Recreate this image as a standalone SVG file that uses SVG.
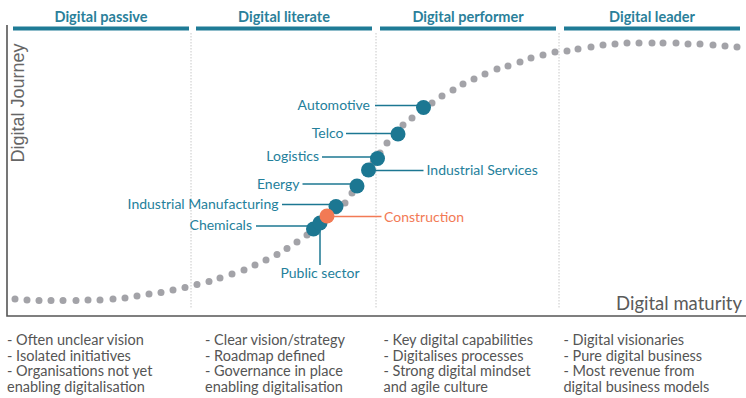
<svg xmlns="http://www.w3.org/2000/svg" width="746" height="398" viewBox="0 0 746 398">
<style>
.bg{fill:#ffffff}
.bar{fill:#1f7b96}
.hdr{font-family:Lato,"Open Sans",sans-serif;font-size:14.5px;font-weight:700;fill:#2a7f9a;text-anchor:middle}
.div{stroke:#c8c8c8;stroke-width:1;stroke-dasharray:1.5 1.5;fill:none}
.axis{stroke:#555555;stroke-width:1.6;fill:none}
.ylab{font-family:"Liberation Sans",Arial,sans-serif;font-size:18px;fill:#666666;text-anchor:middle}
.xlab{font-family:Lato,"Open Sans",sans-serif;font-size:18.5px;fill:#5a5a5a;text-anchor:end}
.gd{fill:#a3a3a8}
.dot{fill:#1c7792}
.dot-o{fill:#f27a55}
.lbl{font-family:Lato,"Open Sans",sans-serif;font-size:14px;fill:#24809b}
.lbl-o{font-family:Lato,"Open Sans",sans-serif;font-size:14px;fill:#f27a55}
.ln{stroke:#1c7792;stroke-width:1.5;fill:none}
.ln-o{stroke:#f27a55;stroke-width:1.5;fill:none}
.body{font-family:Lato,"Open Sans",sans-serif;font-size:14.5px;fill:#555555}
</style>
<rect class="bg" x="0" y="0" width="746" height="398"/>

<g id="stages">
  <g id="stage-passive">
    <rect class="bar" x="13" y="26.5" width="176" height="4"/>
    <text class="hdr" x="101" y="22">Digital passive</text>
  </g>
  <g id="stage-literate">
    <rect class="bar" x="196" y="26.5" width="176" height="4"/>
    <text class="hdr" x="284" y="22">Digital literate</text>
  </g>
  <g id="stage-performer">
    <rect class="bar" x="380" y="26.5" width="176" height="4"/>
    <text class="hdr" x="468" y="22">Digital performer</text>
  </g>
  <g id="stage-leader">
    <rect class="bar" x="564" y="26.5" width="176" height="4"/>
    <text class="hdr" x="652" y="22">Digital leader</text>
  </g>
</g>

<g id="dividers">
  <line class="div" x1="191" y1="33" x2="191" y2="309"/>
  <line class="div" x1="376" y1="33" x2="376" y2="309"/>
  <line class="div" x1="559" y1="33" x2="559" y2="309"/>
</g>

<g id="axes">
  <path class="axis" d="M7,25 V316 H746"/>
  <text class="ylab" transform="translate(24,103) rotate(-90)">Digital Journey</text>
  <text class="xlab" x="742" y="310">Digital maturity</text>
</g>

<g id="curve">
  <circle class="gd" cx="15" cy="299" r="3.5"/>
  <circle class="gd" cx="27" cy="300" r="3.5"/>
  <circle class="gd" cx="39" cy="300.5" r="3.5"/>
  <circle class="gd" cx="51" cy="300.5" r="3.5"/>
  <circle class="gd" cx="63" cy="300.5" r="3.5"/>
  <circle class="gd" cx="76" cy="300.5" r="3.5"/>
  <circle class="gd" cx="88" cy="300" r="3.5"/>
  <circle class="gd" cx="100" cy="300" r="3.5"/>
  <circle class="gd" cx="113" cy="299" r="3.5"/>
  <circle class="gd" cx="125" cy="298" r="3.5"/>
  <circle class="gd" cx="137" cy="296" r="3.5"/>
  <circle class="gd" cx="149" cy="294" r="3.5"/>
  <circle class="gd" cx="161" cy="292.5" r="3.5"/>
  <circle class="gd" cx="173" cy="290" r="3.5"/>
  <circle class="gd" cx="185" cy="287.5" r="3.5"/>
  <circle class="gd" cx="197" cy="284.5" r="3.5"/>
  <circle class="gd" cx="209" cy="281.5" r="3.5"/>
  <circle class="gd" cx="220" cy="278" r="3.5"/>
  <circle class="gd" cx="232" cy="274" r="3.5"/>
  <circle class="gd" cx="244" cy="270" r="3.5"/>
  <circle class="gd" cx="255" cy="265" r="3.5"/>
  <circle class="gd" cx="266" cy="260" r="3.5"/>
  <circle class="gd" cx="277" cy="254.5" r="3.5"/>
  <circle class="gd" cx="287" cy="248.5" r="3.5"/>
  <circle class="gd" cx="297" cy="242" r="3.5"/>
  <circle class="gd" cx="307" cy="235" r="3.5"/>
  <circle class="gd" cx="317" cy="227" r="3.5"/>
  <circle class="gd" cx="327" cy="219" r="3.5"/>
  <circle class="gd" cx="336" cy="211" r="3.5"/>
  <circle class="gd" cx="345" cy="203" r="3.5"/>
  <circle class="gd" cx="352" cy="193" r="3.5"/>
  <circle class="gd" cx="359" cy="183" r="3.5"/>
  <circle class="gd" cx="366" cy="173" r="3.5"/>
  <circle class="gd" cx="373" cy="163" r="3.5"/>
  <circle class="gd" cx="380" cy="153" r="3.5"/>
  <circle class="gd" cx="387" cy="143" r="3.5"/>
  <circle class="gd" cx="395" cy="134" r="3.5"/>
  <circle class="gd" cx="403" cy="125" r="3.5"/>
  <circle class="gd" cx="412" cy="118" r="3.5"/>
  <circle class="gd" cx="422" cy="110" r="3.5"/>
  <circle class="gd" cx="432" cy="103" r="3.5"/>
  <circle class="gd" cx="442" cy="96" r="3.5"/>
  <circle class="gd" cx="453" cy="90" r="3.5"/>
  <circle class="gd" cx="463" cy="84" r="3.5"/>
  <circle class="gd" cx="474" cy="79" r="3.5"/>
  <circle class="gd" cx="485" cy="74" r="3.5"/>
  <circle class="gd" cx="497" cy="69" r="3.5"/>
  <circle class="gd" cx="508" cy="66" r="3.5"/>
  <circle class="gd" cx="520" cy="62" r="3.5"/>
  <circle class="gd" cx="531" cy="58" r="3.5"/>
  <circle class="gd" cx="543" cy="55" r="3.5"/>
  <circle class="gd" cx="555" cy="52" r="3.5"/>
  <circle class="gd" cx="567" cy="51" r="3.5"/>
  <circle class="gd" cx="578" cy="49" r="3.5"/>
  <circle class="gd" cx="591" cy="47" r="3.5"/>
  <circle class="gd" cx="603" cy="45" r="3.5"/>
  <circle class="gd" cx="615" cy="44" r="3.5"/>
  <circle class="gd" cx="627" cy="43" r="3.5"/>
  <circle class="gd" cx="639" cy="43" r="3.5"/>
  <circle class="gd" cx="652" cy="43" r="3.5"/>
  <circle class="gd" cx="663" cy="43" r="3.5"/>
  <circle class="gd" cx="676" cy="43" r="3.5"/>
  <circle class="gd" cx="688" cy="44" r="3.5"/>
  <circle class="gd" cx="700" cy="44" r="3.5"/>
  <circle class="gd" cx="713" cy="45" r="3.5"/>
  <circle class="gd" cx="725" cy="46" r="3.5"/>
  <circle class="gd" cx="737" cy="47" r="3.5"/>
</g>

<g id="connectors">
  <line class="ln" x1="375" y1="105.5" x2="423" y2="105.5"/>
  <line class="ln" x1="346" y1="133.5" x2="398" y2="133.5"/>
  <line class="ln" x1="322" y1="157" x2="377" y2="157"/>
  <line class="ln" x1="368" y1="170.5" x2="423.5" y2="170.5"/>
  <line class="ln" x1="302.5" y1="184" x2="357" y2="184"/>
  <line class="ln" x1="282" y1="204.5" x2="336" y2="204.5"/>
  <line class="ln" x1="256" y1="226" x2="313" y2="226"/>
  <line class="ln" x1="320" y1="223" x2="320" y2="265"/>
  <line class="ln-o" x1="327" y1="216.5" x2="381.5" y2="216.5"/>
</g>

<g id="automotive">
  <circle class="dot" cx="423.5" cy="107.5" r="7.5"/>
  <text class="lbl" x="370" y="110" text-anchor="end">Automotive</text>
</g>
<g id="telco">
  <circle class="dot" cx="398" cy="134" r="7.5"/>
  <text class="lbl" x="343.5" y="137.5" text-anchor="end">Telco</text>
</g>
<g id="industrial-services">
  <circle class="dot" cx="368.5" cy="170" r="7.5"/>
  <text class="lbl" x="426.5" y="175">Industrial Services</text>
</g>
<g id="logistics">
  <circle class="dot" cx="377.5" cy="158.5" r="7.5"/>
  <text class="lbl" x="319" y="161" text-anchor="end">Logistics</text>
</g>
<g id="energy">
  <circle class="dot" cx="357" cy="186" r="7.5"/>
  <text class="lbl" x="299.5" y="188.5" text-anchor="end">Energy</text>
</g>
<g id="industrial-manufacturing">
  <circle class="dot" cx="336" cy="206.5" r="7.5"/>
  <text class="lbl" x="278.5" y="209" text-anchor="end">Industrial Manufacturing</text>
</g>
<g id="chemicals">
  <circle class="dot" cx="313.5" cy="229" r="7.5"/>
  <text class="lbl" x="252" y="230" text-anchor="end">Chemicals</text>
</g>
<g id="public-sector">
  <circle class="dot" cx="320" cy="223" r="7.5"/>
  <text class="lbl" x="320" y="277.5" text-anchor="middle">Public sector</text>
</g>
<g id="construction">
  <circle class="dot-o" cx="327" cy="216" r="7.5"/>
  <text class="lbl-o" x="384" y="221.5">Construction</text>
</g>

<g id="descriptions">
  <g id="desc-passive">
    <text class="body" x="7" y="345">- Often unclear vision</text>
    <text class="body" x="7" y="360.5">- Isolated initiatives</text>
    <text class="body" x="7" y="376">- Organisations not yet</text>
    <text class="body" x="7" y="391.5">enabling digitalisation</text>
  </g>
  <g id="desc-literate">
    <text class="body" x="205" y="345">- Clear vision/strategy</text>
    <text class="body" x="205" y="360.5">- Roadmap defined</text>
    <text class="body" x="205" y="376">- Governance in place</text>
    <text class="body" x="205" y="391.5">enabling digitalisation</text>
  </g>
  <g id="desc-performer">
    <text class="body" x="383.5" y="345">- Key digital capabilities</text>
    <text class="body" x="383.5" y="360.5">- Digitalises processes</text>
    <text class="body" x="383.5" y="376">- Strong digital mindset</text>
    <text class="body" x="383.5" y="391.5">and agile culture</text>
  </g>
  <g id="desc-leader">
    <text class="body" x="563.5" y="345">- Digital visionaries</text>
    <text class="body" x="563.5" y="360.5">- Pure digital business</text>
    <text class="body" x="563.5" y="376">- Most revenue from</text>
    <text class="body" x="563.5" y="391.5">digital business models</text>
  </g>
</g>
</svg>
